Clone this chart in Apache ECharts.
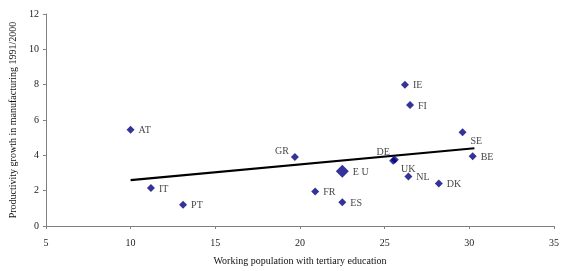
<!DOCTYPE html>
<html>
<head>
<meta charset="utf-8">
<script src="https://cdn.jsdelivr.net/npm/echarts@6/dist/echarts.min.js"></script>
<style>html,body{margin:0;padding:0;background:#fff}#c{width:562px;height:271px}</style>
</head>
<body>
<div id="c"></div>
<script>
var countries = ['AT','IT','PT','GR','EU','FR','ES','DE','UK','IE','FI','SE','BE','NL','DK'];
var tertiary = [10.0, 11.2, 13.1, 19.7, 22.5, 20.9, 22.5, 25.6, 25.5, 26.2, 26.5, 29.6, 30.2, 26.4, 28.2];
var productivity = [5.45, 2.15, 1.2, 3.9, 3.1, 1.95, 1.35, 3.75, 3.7, 8.0, 6.85, 5.3, 3.95, 2.8, 2.4];
var trendX = [10.0, 30.3];
var trendY = [2.6, 4.4];
var xTicks = [5, 10, 15, 20, 25, 30, 35];
var yTicks = [0, 2, 4, 6, 8, 10, 12];

var labelStyle = {
  GR: {position: 'left', offset: [2, -6]},
  DE: {position: 'left', offset: [3, -7]},
  UK: {position: 'right', offset: [0, 9]},
  SE: {position: 'right', offset: [0, 9]}
};

var font = '"Liberation Serif", "DejaVu Serif", serif';
var pts = countries.map(function (c, i) {
  var d = {name: c, value: [tertiary[i], productivity[i]]};
  var ls = labelStyle[c];
  d.label = {show: true, formatter: c, position: ls ? ls.position : 'right', offset: ls ? ls.offset : [0, 1], distance: 4};
  if (c === 'EU') { d.symbolSize = 13; d.label.formatter = 'E U'; }
  return d;
});

var chart = echarts.init(document.getElementById('c'), null, {renderer: 'canvas'});
chart.setOption({
  animation: false,
  backgroundColor: '#fff',
  grid: {left: 42, right: 5, top: 14, bottom: 43, containLabel: false},
  xAxis: {
    type: 'value', min: xTicks[0], max: xTicks[xTicks.length - 1], interval: 5,
    name: 'Working population with tertiary education', nameLocation: 'middle', nameGap: 30,
    nameTextStyle: {fontFamily: font, fontSize: 10, color: '#111'},
    axisLine: {lineStyle: {color: '#808080', width: 1}},
    axisTick: {show: true, length: 3, lineStyle: {color: '#808080'}},
    axisLabel: {fontFamily: font, fontSize: 10, color: '#222', margin: 12},
    splitLine: {show: false}
  },
  yAxis: {
    type: 'value', min: yTicks[0], max: yTicks[yTicks.length - 1], interval: 2,
    name: 'Productivity growth in manufacturing 1991/2000', nameLocation: 'middle', nameGap: 22,
    nameTextStyle: {fontFamily: font, fontSize: 10, color: '#111'},
    axisLine: {show: true, lineStyle: {color: '#808080', width: 1}},
    axisTick: {show: true, length: 3, lineStyle: {color: '#808080'}},
    axisLabel: {fontFamily: font, fontSize: 10, color: '#222', margin: 7},
    splitLine: {show: false}
  },
  series: [
    {
      type: 'line',
      data: trendX.map(function (x, i) { return [x, trendY[i]]; }),
      showSymbol: false, symbol: 'none',
      lineStyle: {color: '#000', width: 2.2},
      z: 1, silent: true
    },
    {
      type: 'scatter',
      symbol: 'diamond',
      symbolSize: 8,
      itemStyle: {color: '#000080'},
      label: {fontFamily: font, fontSize: 10, color: '#111'},
      data: pts,
      z: 2
    }
  ]
});
</script>
</body>
</html>
